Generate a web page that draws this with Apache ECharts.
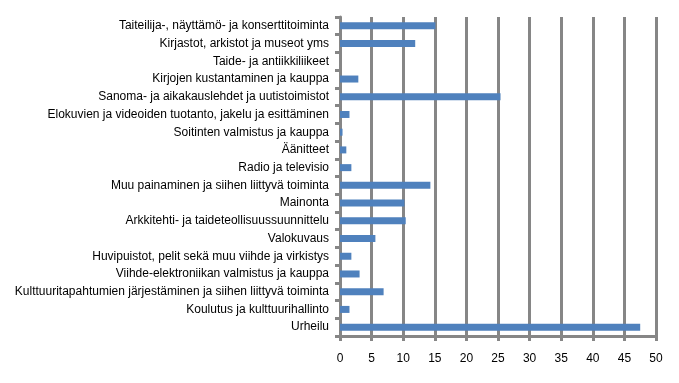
<!DOCTYPE html>
<html><head><meta charset="utf-8">
<script src="https://cdn.jsdelivr.net/npm/echarts@6/dist/echarts.min.js"></script>
<style>html,body{margin:0;padding:0;background:#fff}#c{width:679px;height:383px}</style>
</head><body><div id="c"></div>
<script>
const categories = [
  "Taiteilija-, näyttämö- ja konserttitoiminta",
  "Kirjastot, arkistot ja museot yms",
  "Taide- ja antiikkiliikeet",
  "Kirjojen kustantaminen ja kauppa",
  "Sanoma- ja aikakauslehdet ja uutistoimistot",
  "Elokuvien ja videoiden tuotanto, jakelu ja esittäminen",
  "Soitinten valmistus ja kauppa",
  "Äänitteet",
  "Radio ja televisio",
  "Muu painaminen ja siihen liittyvä toiminta",
  "Mainonta",
  "Arkkitehti- ja taideteollisuussuunnittelu",
  "Valokuvaus",
  "Huvipuistot, pelit sekä muu viihde ja virkistys",
  "Viihde-elektroniikan valmistus ja kauppa",
  "Kulttuuritapahtumien järjestäminen ja siihen liittyvä toiminta",
  "Koulutus ja kulttuurihallinto",
  "Urheilu"
];
const values = [15.1, 11.9, 0, 2.9, 25.4, 1.5, 0.4, 1.0, 1.8, 14.3, 10.2, 10.4, 5.6, 1.8, 3.1, 6.9, 1.5, 47.5];
const xTicks = { min: 0, max: 50, interval: 5 };

const chart = echarts.init(document.getElementById('c'), null, {renderer: 'canvas'});
chart.setOption({
  animation: false,
  grid: { left: 340, right: 23, top: 17, bottom: 47, containLabel: false },
  xAxis: {
    type: 'value', min: xTicks.min, max: xTicks.max, interval: xTicks.interval,
    axisLine: { show: true, lineStyle: { color: '#868686', width: 3 } },
    axisTick: { show: true, length: 5, lineStyle: { color: '#868686', width: 3 } },
    splitLine: { show: true, lineStyle: { color: '#868686', width: 3 } },
    axisLabel: { color: '#000', fontFamily: 'Liberation Sans, Arial', fontSize: 12, margin: 17 }
  },
  yAxis: {
    type: 'category', data: categories, inverse: true,
    axisLine: { show: true, lineStyle: { color: '#868686', width: 3 } },
    axisTick: { show: true, length: 5, lineStyle: { color: '#868686', width: 3 } },
    axisLabel: { color: '#000', fontFamily: 'Liberation Sans, Arial', fontSize: 12, margin: 11, interval: 0 }
  },
  series: [{
    type: 'bar', data: values, barWidth: 7,
    itemStyle: { color: '#4F81BD' }
  }]
});
</script></body></html>
